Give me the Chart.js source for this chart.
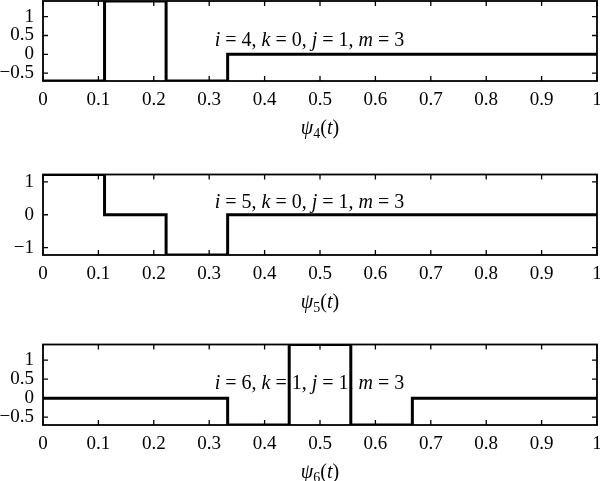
<!DOCTYPE html>
<html><head><meta charset="utf-8">
<script src="https://cdn.jsdelivr.net/npm/chart.js@4.4.1/dist/chart.umd.min.js"></script>
<style>
html,body{margin:0;padding:0;background:#fff;width:600px;height:481px;overflow:hidden}
canvas{position:absolute;left:0}
</style></head><body>
<canvas id="c1" width="600" height="170" style="top:0px"></canvas>
<canvas id="c2" width="600" height="170" style="top:170px"></canvas>
<canvas id="c3" width="600" height="141" style="top:340px"></canvas>
<script>
// ---- data ----
const xTicks = [0, 0.1, 0.2, 0.3, 0.4, 0.5, 0.6, 0.7, 0.8, 0.9, 1];
const xLabels = ['0', '0.1', '0.2', '0.3', '0.4', '0.5', '0.6', '0.7', '0.8', '0.9', '1'];

const t4 = [0, 0.1111, 0.2222, 0.3333, 1];
const psi4 = [-0.7071, 1.4142, -0.7071, 0, 0];
const yTicks4 = [-0.5, 0, 0.5, 1];
const yRange4 = [-0.7071, 1.4142];

const t5 = [0, 0.1111, 0.2222, 0.3333, 1];
const psi5 = [1.2247, 0, -1.2247, 0, 0];
const yTicks5 = [-1, 0, 1];
const yRange5 = [-1.2247, 1.2247];

const t6 = [0, 0.3333, 0.4444, 0.5556, 0.6667, 1];
const psi6 = [0, -0.7071, 1.4142, -0.7071, 0, 0];
const yTicks6 = [-0.5, 0, 0.5, 1];
const yRange6 = [-0.7071, 1.4142];

const note4 = [['i',1],[' = 4, ',0],['k',1],[' = 0, ',0],['j',1],[' = 1, ',0],['m',1],[' = 3',0]];
const note5 = [['i',1],[' = 5, ',0],['k',1],[' = 0, ',0],['j',1],[' = 1, ',0],['m',1],[' = 3',0]];
const note6 = [['i',1],[' = 6, ',0],['k',1],[' = 1, ',0],['j',1],[' = 1, ',0],['m',1],[' = 3',0]];
const notePos = [0.31, 0.37];

const FONT = 'Liberation Serif';

function fmt(v){ return v < 0 ? '\u2212' + String(Math.abs(v)) : String(v); }

const framePlugin = {
  id: 'frame',
  afterDatasetsDraw(chart){
    const {ctx, chartArea: a, scales: {x, y}} = chart;
    ctx.save();
    ctx.strokeStyle = '#000';
    ctx.lineWidth = 1.3;
    ctx.beginPath();
    x.ticks.forEach(t => {
      const px = x.getPixelForValue(t.value);
      ctx.moveTo(px, a.bottom); ctx.lineTo(px, a.bottom - 5);
      ctx.moveTo(px, a.top); ctx.lineTo(px, a.top + 5);
    });
    y.ticks.forEach(t => {
      const py = y.getPixelForValue(t.value);
      ctx.moveTo(a.left, py); ctx.lineTo(a.left + 5, py);
      ctx.moveTo(a.right, py); ctx.lineTo(a.right - 5, py);
    });
    ctx.stroke();
    ctx.lineWidth = 1.8;
    ctx.strokeRect(a.left, a.top, a.right - a.left, a.bottom - a.top);
    ctx.restore();
  }
};

const textPlugin = {
  id: 'texts',
  beforeDatasetsDraw(chart, args, opts){
    const {ctx, scales: {x, y}} = chart;
    ctx.save();
    ctx.fillStyle = '#000';
    ctx.textBaseline = 'middle';
    ctx.textAlign = 'left';
    let px = x.getPixelForValue(notePos[0]);
    const py = y.getPixelForValue(notePos[1]);
    opts.note.forEach(([s, it]) => {
      ctx.font = (it ? 'italic ' : '') + '20px "' + FONT + '"';
      ctx.fillText(s, px, py);
      px += ctx.measureText(s).width;
    });
    ctx.restore();
  },
  afterDraw(chart, args, opts){
    const {ctx, chartArea: a} = chart;
    ctx.save();
    ctx.fillStyle = '#000';
    ctx.textBaseline = 'middle';
    ctx.textAlign = 'left';
    const parts = [['\u03C8', 'italic 20px', 0], [opts.sub, '14px', 5], ['(', '20px', 0], ['t', 'italic 20px', 0], [')', '20px', 0]];
    let w = 0;
    parts.forEach(p => { ctx.font = p[1] + ' "' + FONT + '"'; w += ctx.measureText(p[0]).width; });
    let px = (a.left + a.right) / 2 - w / 2;
    const py = a.bottom + 48;
    parts.forEach(p => {
      ctx.font = p[1] + ' "' + FONT + '"';
      ctx.fillText(p[0], px, py + p[2]);
      px += ctx.measureText(p[0]).width;
    });
    ctx.restore();
  }
};

function makeChart(id, t, vals, yTicks, yRange, note, sub, pad){
  const pts = t.map((tv, i) => ({x: tv, y: vals[i]}));
  return new Chart(document.getElementById(id), {
    type: 'line',
    data: { datasets: [{ data: pts, borderColor: '#000', borderWidth: 3, pointRadius: 0, stepped: 'before', fill: false, tension: 0 }] },
    options: {
      responsive: false, animation: false, devicePixelRatio: 1,
      layout: { padding: pad },
      plugins: { legend: {display: false}, tooltip: {enabled: false}, texts: {note: note, sub: sub} },
      scales: {
        x: {
          type: 'linear', min: 0, max: 1,
          afterBuildTicks: s => { s.ticks = xTicks.map(v => ({value: v})); },
          afterFit: s => { s.height = 30; s.paddingLeft = 0; s.paddingRight = 0; },
          grid: {display: false, drawTicks: false}, border: {display: false},
          ticks: { padding: 8, color: '#000', font: {family: FONT, size: 19}, maxRotation: 0, autoSkip: false,
            callback: (v) => xLabels[xTicks.indexOf(v)] }
        },
        y: {
          type: 'linear', min: yRange[0], max: yRange[1],
          afterBuildTicks: s => { s.ticks = yTicks.map(v => ({value: v})); },
          afterFit: s => { s.width = 43; s.paddingTop = 0; s.paddingBottom = 0; },
          grid: {display: false, drawTicks: false}, border: {display: false},
          ticks: { padding: 9, color: '#000', font: {family: FONT, size: 19}, autoSkip: false, callback: v => fmt(v) }
        }
      }
    },
    plugins: [framePlugin, textPlugin]
  });
}

makeChart('c1', t4, psi4, yTicks4, yRange4, note4, '4', {top: 1, right: 3, left: 0, bottom: 59});
makeChart('c2', t5, psi5, yTicks5, yRange5, note5, '5', {top: 4.5, right: 3, left: 0, bottom: 55});
makeChart('c3', t6, psi6, yTicks6, yRange6, note6, '6', {top: 4.5, right: 3, left: 0, bottom: 26});
</script>
</body></html>
